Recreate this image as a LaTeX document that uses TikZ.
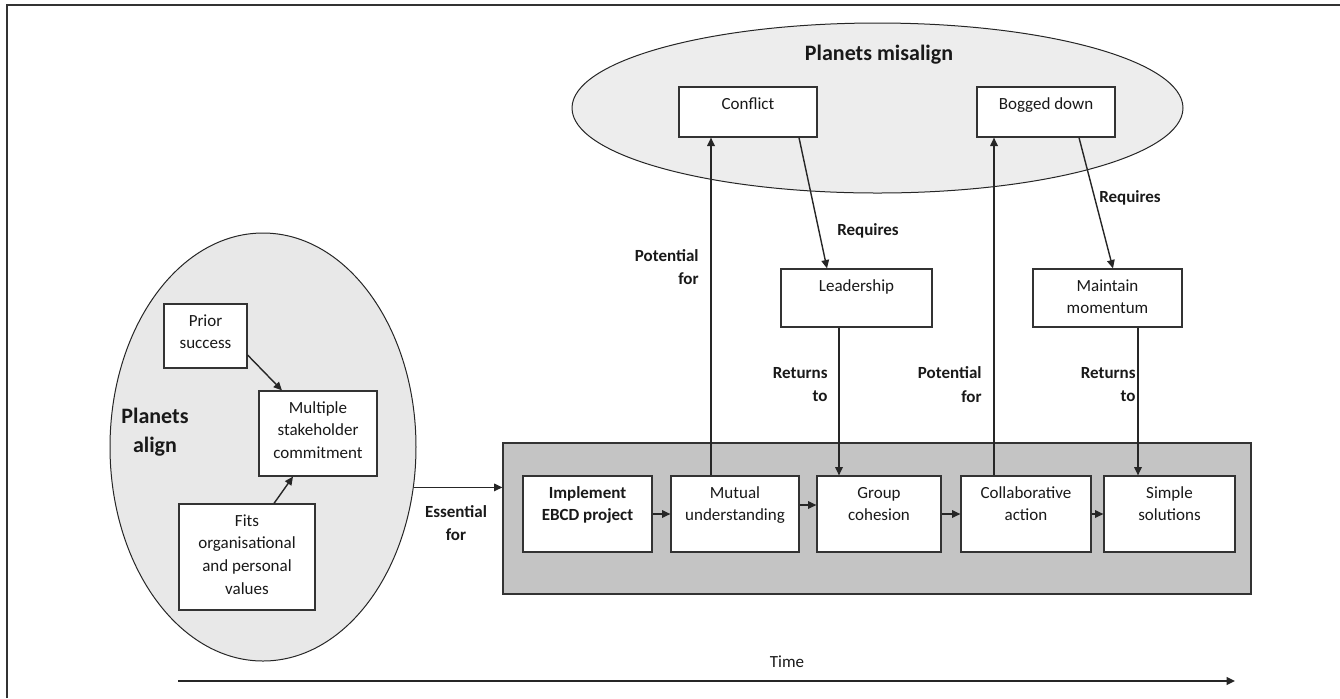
\documentclass[tikz,border=0pt]{standalone}
\usepackage{fontspec}
\setmainfont{Carlito}
\usetikzlibrary{shapes.geometric}
\usetikzlibrary{arrows.meta}

\newcommand{\boxtext}[3]{\parbox[c][#2][t]{#1}{\centering\rule{0pt}{11pt}#3\par}}

\begin{document}
\begin{tikzpicture}[x=0.5pt, y=-0.5pt, font=\fontsize{8.5}{11.35}\selectfont, text=black!90]
  \tikzstyle{stage}=[draw=black!80, fill=white, line width=0.6pt, inner sep=0pt]
  \tikzstyle{planet}=[ellipse, draw=black!85, line width=0.5pt, inner sep=0pt]
  \tikzstyle{connect}=[-{Triangle[length=4.2pt, width=3.8pt]}, line width=0.7pt, draw=black!85, fill=black!85]
  \tikzstyle{tag}=[font=\fontsize{8.5}{11.8}\selectfont\bfseries, inner sep=0pt, align=center]
  \tikzstyle{heading}=[font=\fontsize{11}{14.5}\selectfont\bfseries, inner sep=0pt, align=center]

  \useasboundingbox (0,0) rectangle (1340,698);
  \draw[line width=1pt, black!80] (7,698) -- (7,5) -- (1340,5);

  % clouds and grey band
  \node[planet, fill=black!7, minimum width=305.5pt, minimum height=85pt] (misalign) at (877.5,108) {};
  \node[planet, fill=black!9, minimum width=153pt, minimum height=214pt] (align) at (263,447) {};
  \node[draw=black!80, fill=black!23, line width=0.6pt, minimum width=374pt, minimum height=75.5pt, inner sep=0pt] (band) at (877,518.5) {};

  \node[heading] (misalignlabel) at (879,55) {Planets misalign};
  \node[heading] (alignlabel) at (155,432) {Planets\\align};

  \node[stage] (conflict) at (748,112) {\boxtext{69pt}{25pt}{Conflict}};
  \node[stage] (bogged) at (1046,112) {\boxtext{69pt}{25pt}{Bogged down}};
  \node[stage] (leader) at (856.5,298) {\boxtext{75.5pt}{29pt}{Leadership}};
  \node[stage] (momentum) at (1107.5,298) {\boxtext{74.5pt}{29pt}{Maintain\\momentum}};
  \node[stage] (prior) at (205.5,336) {\boxtext{41.5pt}{32pt}{Prior\\success}};
  \node[stage] (multi) at (318,433.5) {\boxtext{59pt}{42.5pt}{Multiple\\stakeholder\\commitment}};
  \node[stage] (fits) at (247,557) {\boxtext{68pt}{53pt}{Fits\\organisational\\and personal\\values}};

  \foreach \pos/\boxwd/\name/\txt in
    { 587.5/64.5pt/implement/{\bfseries Implement\\EBCD project}
    , 735/64pt/mutual/{Mutual\\understanding}
    , 879/62pt/cohesion/{Group\\cohesion}
    , 1026/65pt/collab/{Collaborative\\action}
    , 1169.5/65.5pt/simple/{Simple\\solutions}
    }
    \node[stage] (\name) at (\pos,514) {\boxtext{\boxwd}{38pt}{\txt}};

  % left cloud
  \draw[connect] ([yshift=-9.5pt]prior.east) -- ([xshift=-18pt]multi.north);
  \draw[connect] ([xshift=13.5pt]fits.north) -- ([xshift=-12.5pt]multi.south);
  \draw[connect] (align.-15) coordinate (ess) -- (ess -| band.west);

  % up to the misalign cloud and back
  \draw[connect] ([xshift=-12pt]mutual.north) coordinate (pf1) -- (pf1 |- conflict.south);
  \draw[connect] ([xshift=-16pt]collab.north) coordinate (pf2) -- (pf2 |- bogged.south);
  \draw[connect] ([xshift=25.5pt]conflict.south) -- ([xshift=-14.75pt]leader.north);
  \draw[connect] ([xshift=16.5pt]bogged.south) -- ([xshift=2.75pt]momentum.north);
  \draw[connect] ([xshift=-8.75pt]leader.south) coordinate (rt1) -- (rt1 |- cohesion.north);
  \draw[connect] ([xshift=15.25pt]momentum.south) coordinate (rt2) -- (rt2 |- simple.north);

  % along the band
  \draw[connect] (implement) -- (mutual);
  \draw[connect] ([yshift=4.5pt]mutual.east) -- ([yshift=4.5pt]cohesion.west);
  \draw[connect] (cohesion) -- (collab);
  \draw[connect] (collab) -- (simple);

  \node[tag, anchor=east, align=right] (pot1) at (699,267) {Potential\\for};
  \node[tag, anchor=east, align=right] (pot2) at (982,384.5) {Potential\\for};
  \node[tag, anchor=east, align=right] (ret1) at (828,384.5) {Returns\\to};
  \node[tag, anchor=east, align=right] (ret2) at (1136,384.5) {Returns\\to};
  \node[tag] (req1) at (868,231) {Requires};
  \node[tag] (req2) at (1130,198) {Requires};
  \node[tag] (esslabel) at (456,523) {Essential\\for};

  % time axis
  \node (time) at (787,662) {Time};
  \coordinate (tstart) at (178,681);
  \coordinate (tend) at (1235,681);
  \draw[connect, line width=1.2pt] (tstart) -- (tend);
\end{tikzpicture}
\end{document}
